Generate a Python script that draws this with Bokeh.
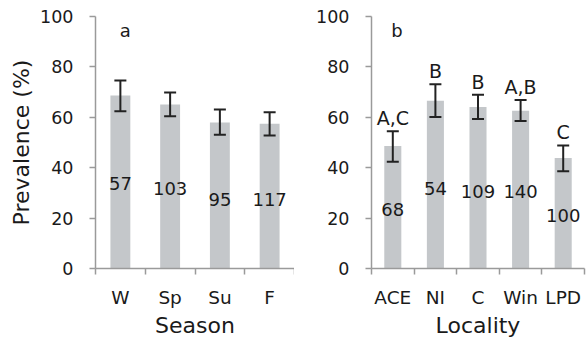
from bokeh.plotting import figure
from bokeh.layouts import row
from bokeh.models import (ColumnDataSource, FixedTicker, Range1d, Whisker, TeeHead, Label)
from bokeh.core.properties import value
from bokeh.embed import file_html
from bokeh.resources import INLINE

# ---- data: panel a (season) ----
seasons = ["W", "Sp", "Su", "F"]
season_prev = [68.7, 65.1, 57.9, 57.4]
season_upper = [74.6, 69.8, 63.1, 62.0]
season_lower = [62.4, 60.4, 53.1, 52.8]
season_n = ["57", "103", "95", "117"]
season_n_y = [33.8, 31.7, 27.4, 27.4]

# ---- data: panel b (locality) ----
localities = ["ACE", "NI", "C", "Win", "LPD"]
loc_prev = [48.6, 66.6, 64.1, 62.6, 43.8]
loc_upper = [54.5, 73.1, 68.9, 66.9, 48.8]
loc_lower = [42.4, 60.1, 59.3, 58.5, 38.6]
loc_n = ["68", "54", "109", "140", "100"]
loc_n_y = [23.5, 31.9, 30.6, 30.6, 21.0]
loc_letters = ["A,C", "B", "B", "A,B", "C"]

y_ticks = [0, 20, 40, 60, 80, 100]

FONT = "DejaVu Sans"
TXT = "#1a1a1a"
BAR = "#c4c7ca"
AX = "#9a9a9a"


def make_panel(cats, prev, upper, lower, n_lab, n_y, xlabel, ylabel, border_left, border_right, tag):
    k = len(cats)
    xs = [i + 0.5 for i in range(k)]
    p = figure(width=294, height=340, output_backend="svg", toolbar_location=None,
               x_range=Range1d(0, k), y_range=Range1d(0, 100),
               min_border_left=border_left, min_border_right=border_right,
               min_border_top=16, min_border_bottom=72)
    p.outline_line_color = None
    p.grid.visible = False
    p.background_fill_color = "white"
    p.border_fill_color = "white"

    src = ColumnDataSource(dict(x=xs, top=prev, upper=upper, lower=lower,
                                n=n_lab, ny=n_y))
    p.vbar(x="x", top="top", bottom=0, width=0.4, source=src,
           fill_color=BAR, line_color=None)
    w = Whisker(base="x", upper="upper", lower="lower", source=src,
                level="annotation",
                line_color="#222222", line_width=2,
                upper_head=TeeHead(size=12, line_color="#222222", line_width=2),
                lower_head=TeeHead(size=12, line_color="#222222", line_width=2))
    p.add_layout(w)
    p.text(x="x", y="ny", text="n", source=src, text_align="center",
           text_baseline="middle", text_font=value(FONT),
           text_font_size="18px", text_color=TXT)

    # x axis: labels at centres, tick marks at category boundaries
    xa = p.xaxis[0]
    xa.ticker = FixedTicker(ticks=xs, minor_ticks=list(range(k + 1)))
    xa.major_label_overrides = {x: c for x, c in zip(xs, cats)}
    xa.major_tick_out = 0
    xa.major_tick_in = 0
    xa.minor_tick_out = 6
    xa.minor_tick_in = 0
    xa.minor_tick_line_color = AX
    xa.minor_tick_line_width = 1.5
    xa.major_label_standoff = 12
    xa.major_label_text_font = FONT
    xa.major_label_text_font_size = "18.5px"
    xa.major_label_text_color = TXT
    xa.axis_label = xlabel
    xa.axis_label_text_font = FONT
    xa.axis_label_text_font_size = "22px"
    xa.axis_label_text_font_style = "normal"
    xa.axis_label_text_color = TXT
    xa.axis_label_standoff = 2
    xa.axis_line_color = AX
    xa.axis_line_width = 1.5

    ya = p.yaxis[0]
    ya.ticker = FixedTicker(ticks=y_ticks)
    ya.major_tick_out = 6
    ya.major_tick_in = 0
    ya.minor_tick_out = 0
    ya.minor_tick_in = 0
    ya.major_tick_line_color = AX
    ya.major_tick_line_width = 1.5
    ya.axis_line_color = AX
    ya.axis_line_width = 1.5
    ya.major_label_standoff = 16
    ya.major_label_text_font = FONT
    ya.major_label_text_font_size = "17.5px"
    ya.major_label_text_color = TXT
    if ylabel:
        ya.axis_label = ylabel
        ya.axis_label_text_font = FONT
        ya.axis_label_text_font_size = "22px"
        ya.axis_label_text_font_style = "normal"
        ya.axis_label_text_color = TXT
        ya.axis_label_standoff = 3

    p.add_layout(Label(x=0.6, y=94.3, text=tag, text_font=FONT,
                       text_font_size="18px", text_color=TXT,
                       text_align="center", text_baseline="alphabetic"))
    return p, src


p1, _ = make_panel(seasons, season_prev, season_upper, season_lower,
                   season_n, season_n_y, "Season", "Prevalence (%)", 95, 0, "a")
p2, src2 = make_panel(localities, loc_prev, loc_upper, loc_lower,
                      loc_n, loc_n_y, "Locality", None, 77, 4, "b")

src2.data["ly"] = [u + 5.2 for u in loc_upper]
src2.data["lt"] = loc_letters
p2.text(x="x", y="ly", text="lt", source=src2, text_align="center",
        text_baseline="middle", text_font=value(FONT),
        text_font_size="19px", text_color=TXT)

layout = row(p1, p2)
open("out.html", "w").write(file_html(layout, INLINE))
